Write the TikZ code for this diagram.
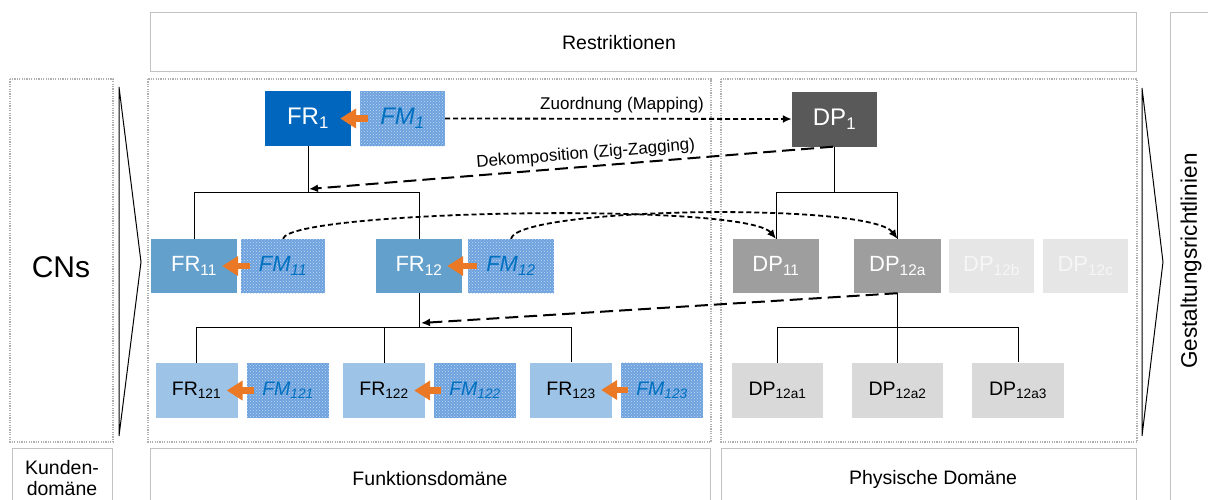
\documentclass[tikz,border=0pt]{standalone}
\usepackage{fontspec}
\setmainfont{Liberation Sans}
\usetikzlibrary{arrows.meta,patterns}
\definecolor{frA}{RGB}{0,102,190}
\definecolor{frB}{RGB}{100,160,204}
\definecolor{frC}{RGB}{157,195,230}
\definecolor{fmfill}{RGB}{110,162,222}
\definecolor{fmdots}{RGB}{195,219,243}
\definecolor{fmtext}{RGB}{0,112,192}
\definecolor{dpA}{RGB}{89,89,89}
\definecolor{dpB}{RGB}{158,158,158}
\definecolor{dpC}{RGB}{230,230,230}
\definecolor{dpCt}{RGB}{246,246,246}
\definecolor{dpD}{RGB}{217,217,217}
\definecolor{orng}{RGB}{234,120,36}
\definecolor{frameg}{RGB}{195,195,195}
\definecolor{dotg}{RGB}{175,175,175}
\newcommand{\fs}[1]{\fontsize{#1}{#1}\selectfont}
\begin{document}
\begin{tikzpicture}[x=1pt,y=-1pt,
  frame/.style={draw=frameg,line width=0.9},
  dotframe/.style={draw=dotg,line width=1.2,dash pattern=on 1.2 off 1.2},
  bx/.style={inner sep=0,minimum width=86,minimum height=55,anchor=center},
  fm/.style={bx,fill=fmfill,postaction={pattern=crosshatch dots,pattern color=fmdots},text=fmtext,font=\itshape},
  tree/.style={draw=black,line width=1},
  oarr/.style={draw=orng,line width=6.5,-{Triangle[length=16,width=19]}},
  mapline/.style={draw=black,line width=1.8,dash pattern=on 5 off 3,-{Latex[length=9,width=8]}},
  dekline/.style={draw=black,line width=2,dash pattern=on 13 off 6,-{Latex[length=9,width=8]}},
  lbl/.style={font=\fs{17}},
  seclbl/.style={font=\fs{19.5}}
]
\useasboundingbox (0,0) rectangle (1208,499);
\fill[white] (0,0) rectangle (1208,499);

% frames
\draw[frame] (150,12) rectangle (1136,71);
\node[seclbl] (restr) at (619,43) {Restriktionen};
\draw[dotframe] (10,79) rectangle (113,442);
\draw[dotframe] (148,79) rectangle (711,442);
\draw[dotframe] (721,79) rectangle (1137,442);
\draw[frame] (12,448) rectangle (112,515);
\draw[frame] (150,448) rectangle (710,515);
\draw[frame] (721,448) rectangle (1136,515);
\draw[frame] (1170,12) rectangle (1220,515);
\node[seclbl,align=center,font=\fs{19.5}\linespread{1.1}\selectfont] (kd) at (62,478) {Kunden-\\domäne};
\node[seclbl] (fd) at (430,479) {Funktionsdomäne};
\node[seclbl] (pd) at (933,479) {Physische Domäne};
\node[font=\fs{22.5},rotate=90] (gr) at (1191,261) {Gestaltungsrichtlinien};
\node[font=\fs{30}] (cns) at (61,267) {CNs};

% chevrons
\draw[line width=1] (119,87) -- (141,262) -- (119,436) -- cycle;
\draw[line width=1] (1142,88) -- (1163,262) -- (1142,436) -- cycle;

% level 1
\node[bx,fill=frA,text=white,font=\fs{24}] (FR1) at (308,118.5) {FR\textsubscript{1}};
\node[fm,minimum width=85,font=\fs{24}\itshape] (FM1) at (402.5,118.5) {FM\textsubscript{1}};
\node[bx,minimum width=85,fill=dpA,text=white,font=\fs{24}] (DP1) at (834.5,119) {DP\textsubscript{1}};

% level 2
\node[bx,minimum height=54,fill=frB,text=white,font=\fs{22}] (FR11) at (194,266) {FR\textsubscript{11}};
\node[fm,minimum width=84,minimum height=54,font=\fs{22}\itshape] (FM11) at (283,266) {FM\textsubscript{11}};
\node[bx,minimum height=54,fill=frB,text=white,font=\fs{22}] (FR12) at (419,266) {FR\textsubscript{12}};
\node[fm,minimum height=54,font=\fs{22}\itshape] (FM12) at (511,266) {FM\textsubscript{12}};
\node[bx,minimum height=54,fill=dpB,text=white,font=\fs{22}] (DP11) at (776,266) {DP\textsubscript{11}};
\node[bx,minimum width=87,minimum height=54,fill=dpB,text=white,font=\fs{22}] (DP12a) at (897.5,266) {DP\textsubscript{12a}};
\node[bx,minimum width=85,minimum height=54,fill=dpC,text=dpCt,font=\fs{22}] (DP12b) at (991.5,266) {DP\textsubscript{12b}};
\node[bx,minimum width=85,minimum height=54,fill=dpC,text=dpCt,font=\fs{22}] (DP12c) at (1085.5,266) {DP\textsubscript{12c}};

% level 3
\node[bx,minimum width=82,fill=frC,text=black,font=\fs{19.5}] (FR121) at (196.5,390.5) {FR\textsubscript{121}};
\node[fm,minimum width=82,font=\fs{19.5}\itshape] (FM121) at (288,390.5) {FM\textsubscript{121}};
\node[bx,minimum width=82,fill=frC,text=black,font=\fs{19.5}] (FR122) at (384,390.5) {FR\textsubscript{122}};
\node[fm,minimum width=82,font=\fs{19.5}\itshape] (FM122) at (475,390.5) {FM\textsubscript{122}};
\node[bx,minimum width=82,fill=frC,text=black,font=\fs{19.5}] (FR123) at (571,390) {FR\textsubscript{123}};
\node[fm,minimum width=82,font=\fs{19.5}\itshape] (FM123) at (662,390) {FM\textsubscript{123}};
\node[bx,minimum width=91,fill=dpD,text=black,font=\fs{19.5}] (DP12a1) at (777.5,390.5) {DP\textsubscript{12a1}};
\node[bx,minimum width=91,fill=dpD,text=black,font=\fs{19.5}] (DP12a2) at (897.5,390.5) {DP\textsubscript{12a2}};
\node[bx,minimum width=92,fill=dpD,text=black,font=\fs{19.5}] (DP12a3) at (1018,390) {DP\textsubscript{12a3}};

% tree junctions
\coordinate (j1) at (308,192);
\coordinate (j2) at (834.5,192);
\coordinate (j3) at (419,327);
\coordinate (j4) at (897.5,327);
\draw[tree] (FR1.south) -- (j1);
\draw[tree] (FR11.north) -- (FR11.north |- j1) -- (FR12.north |- j1) -- (FR12.north);
\draw[tree] (DP1.south) -- (j2);
\draw[tree] (DP11.north) -- (DP11.north |- j2) -- (DP12a.north |- j2) -- (DP12a.north);
\draw[tree] (FR12.south) -- (j3);
\draw[tree] (FR121.north) -- (FR121.north |- j3) -- (FR123.north |- j3) -- (FR123.north);
\draw[tree] (FR122.north) -- (FR122.north |- j3);
\draw[tree] (DP12a.south) -- (j4);
\draw[tree] (DP12a1.north) -- (DP12a1.north |- j4) -- (DP12a3.north |- j4) -- (DP12a3.north);
\draw[tree] (DP12a2.north) -- (DP12a2.north |- j4);

% orange arrows
\draw[oarr] ([xshift=8]FM1.west) -- ([xshift=-11]FR1.east);
\draw[oarr] ([xshift=9]FM11.west) -- ([xshift=-15]FR11.east);
\draw[oarr] ([xshift=9]FM12.west) -- ([xshift=-15]FR12.east);
\draw[oarr] ([xshift=7]FM121.west) -- ([xshift=-11]FR121.east);
\draw[oarr] ([xshift=7]FM122.west) -- ([xshift=-11]FR122.east);
\draw[oarr] ([xshift=7]FM123.west) -- ([xshift=-11]FR123.east);

% mapping
\draw[mapline] (FM1.east) -- node[lbl,above=1pt,pos=0.51] (zl) {Zuordnung (Mapping)} (DP1.west);
\draw[mapline] (FM11.north) .. controls (290,210) and (745,202) .. (DP11.north);
\draw[mapline] (FM12.north) .. controls (518,207) and (870,202) .. (DP12a.north);

% decomposition
\coordinate (d1) at (309,189);
\coordinate (d2) at (421,323);
\draw[dekline] ([xshift=-1.5]DP1.south) -- (d1);
\path (d1) -- node[lbl,sloped,above=1pt,pos=0.53] (dl) {Dekomposition (Zig-Zagging)} ([xshift=-1.5]DP1.south);
\draw[dekline] (DP12a.south) -- (d2);
\end{tikzpicture}
\end{document}
